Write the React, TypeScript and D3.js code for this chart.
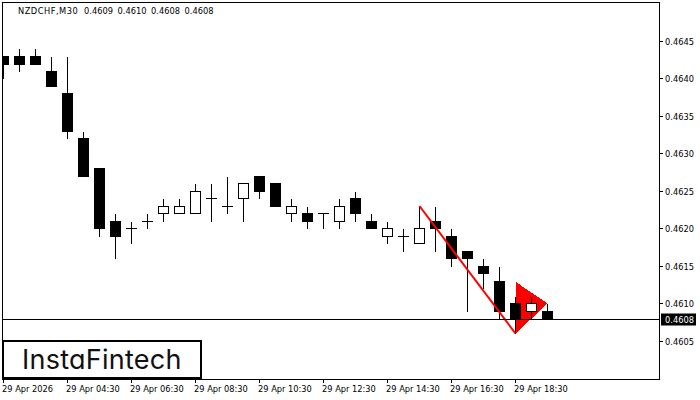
import React, { useEffect, useRef } from "react";
import * as d3 from "d3";

const opens = [0.4643, 0.4643, 0.4643, 0.4641, 0.4638, 0.4632, 0.4628, 0.4621, 0.462, 0.4621, 0.4622, 0.4622, 0.4622, 0.4624, 0.4623, 0.4624, 0.4627, 0.4626, 0.4622, 0.4622, 0.4622, 0.4621, 0.4624, 0.4621, 0.4619, 0.4619, 0.4618, 0.4621, 0.4619, 0.4617, 0.4615, 0.4613, 0.461, 0.4609, 0.4609];
const highs = [0.4643, 0.4644, 0.4644, 0.4643, 0.4643, 0.4633, 0.4628, 0.4622, 0.4621, 0.4622, 0.4624, 0.4624, 0.4626, 0.4626, 0.4627, 0.4626, 0.4627, 0.4626, 0.4624, 0.4623, 0.4622, 0.4624, 0.4625, 0.4622, 0.4621, 0.462, 0.4623, 0.4623, 0.462, 0.4617, 0.4616, 0.4615, 0.4611, 0.4611, 0.461];
const lows = [0.464, 0.4641, 0.46419, 0.4639, 0.4632, 0.4627, 0.4619, 0.4616, 0.4618, 0.462, 0.4621, 0.4622, 0.4622, 0.4621, 0.4622, 0.4621, 0.4624, 0.4623, 0.4621, 0.462, 0.462, 0.462, 0.4621, 0.462, 0.4618, 0.4617, 0.4618, 0.4617, 0.4615, 0.4609, 0.4612, 0.46079, 0.4606, 0.46079, 0.46079];
const closes = [0.46419, 0.46419, 0.46419, 0.4639, 0.4633, 0.4627, 0.462, 0.4619, 0.462, 0.4621, 0.4623, 0.4623, 0.4625, 0.4624, 0.4623, 0.4626, 0.4625, 0.4623, 0.4623, 0.4621, 0.4622, 0.4623, 0.4622, 0.462, 0.462, 0.4619, 0.462, 0.462, 0.4616, 0.4616, 0.4614, 0.4609, 0.46079, 0.461, 0.46079];

const priceTicks = [0.4645, 0.464, 0.4635, 0.463, 0.4625, 0.462, 0.4615, 0.461, 0.4605];
const timeTickIndex = [0, 4, 8, 12, 16, 20, 24, 28, 32];
const timeLabels = ["29 Apr 2026", "29 Apr 04:30", "29 Apr 06:30", "29 Apr 08:30", "29 Apr 10:30", "29 Apr 12:30", "29 Apr 14:30", "29 Apr 16:30", "29 Apr 18:30"];

const lastPrice = 0.46079;
const flagPole: [number, number][] = [[26, 0.4623], [32, 0.4606]];
const pennant: [number, number][] = [[32, 0.46129], [32, 0.4606], [34, 0.461]];

const FONT = "'DejaVu Sans', sans-serif";

export default function App() {
    const svgRef = useRef<SVGSVGElement>(null);

    useEffect(() => {
        if (!svgRef.current) return;
        const svg = d3.select(svgRef.current);
        svg.selectAll("*").remove();

        const left = 2, right = 660, top = 2, bottom = 379;

        const x = d3.scaleLinear().domain([0, 34]).range([3.5, 547.5]);
        const y = d3.scaleLinear().domain([0.4645, 0.4605]).range([41, 341]);
        const py = (p: number) => Math.floor(y(p)) + 0.5;

        const label = (tx: number, ty: number, s: string, fill = "#000") =>
            svg.append("text")
                .attr("x", tx).attr("y", ty)
                .attr("font-family", FONT).attr("font-size", 9.2)
                .attr("font-stretch", "condensed")
                .attr("fill", fill)
                .text(s);

        svg.append("defs").append("clipPath").attr("id", "plot")
            .append("rect")
            .attr("x", left + 1).attr("y", top)
            .attr("width", right - left - 1).attr("height", bottom - top);

        // pennant sits behind the candles
        const plot = svg.append("g").attr("clip-path", "url(#plot)");
        const lineGen = d3.line<[number, number]>().x((d) => x(d[0])).y((d) => y(d[1]));
        plot.append("path")
            .attr("d", lineGen(pennant) + "Z")
            .attr("fill", "#ff0000")
            .attr("shape-rendering", "crispEdges");

        opens.forEach((o, i) => {
            const cx = x(i);
            const c = closes[i];
            const g = plot.append("g").attr("shape-rendering", "crispEdges");
            g.append("line")
                .attr("x1", cx).attr("x2", cx)
                .attr("y1", py(highs[i])).attr("y2", py(lows[i]) + 0.5)
                .attr("stroke", "#000");
            if (o === c) {
                g.append("line")
                    .attr("x1", cx - 5.5).attr("x2", cx + 5.5)
                    .attr("y1", py(o)).attr("y2", py(o))
                    .attr("stroke", "#000");
            } else if (c > o) {
                g.append("rect")
                    .attr("x", cx - 5).attr("width", 10)
                    .attr("y", py(c)).attr("height", py(o) - py(c))
                    .attr("fill", "#fff").attr("stroke", "#000");
            } else {
                g.append("rect")
                    .attr("x", cx - 5.5).attr("width", 11)
                    .attr("y", py(o) - 0.5).attr("height", py(c) - py(o) + 1)
                    .attr("fill", "#000");
            }
        });

        plot.append("path")
            .attr("d", lineGen(flagPole))
            .attr("fill", "none")
            .attr("stroke", "#ff0000")
            .attr("stroke-width", 2);

        // last price line
        svg.append("line")
            .attr("x1", left).attr("x2", right)
            .attr("y1", py(lastPrice)).attr("y2", py(lastPrice))
            .attr("stroke", "#000")
            .attr("shape-rendering", "crispEdges");

        // frame
        svg.append("rect")
            .attr("x", left + 0.5).attr("y", top + 0.5)
            .attr("width", right - left - 1).attr("height", bottom - top)
            .attr("fill", "none").attr("stroke", "#000")
            .attr("shape-rendering", "crispEdges");

        // price axis
        priceTicks.forEach((p) => {
            svg.append("line")
                .attr("x1", right).attr("x2", right + 3)
                .attr("y1", py(p)).attr("y2", py(p))
                .attr("stroke", "#000")
                .attr("shape-rendering", "crispEdges");
            label(665, py(p) + 3.5, d3.format(".4f")(p));
        });

        svg.append("rect")
            .attr("x", 661).attr("y", py(lastPrice) - 6)
            .attr("width", 35).attr("height", 12)
            .attr("fill", "#000");
        label(665, py(lastPrice) + 3.5, d3.format(".4f")(lastPrice), "#fff");

        // time axis
        timeTickIndex.forEach((idx, i) => {
            svg.append("line")
                .attr("x1", x(idx)).attr("x2", x(idx))
                .attr("y1", bottom).attr("y2", bottom + 4)
                .attr("stroke", "#000")
                .attr("shape-rendering", "crispEdges");
            label(x(idx) - 1.5, 392, timeLabels[i]);
        });

        label(18, 14, "NZDCHF,M30").attr("letter-spacing", 0.5);
        label(84, 14, "0.4609 0.4610 0.4608 0.4608").attr("word-spacing", 2);

        // logo
        svg.append("rect")
            .attr("x", 3).attr("y", 341)
            .attr("width", 198).attr("height", 37)
            .attr("fill", "#fff").attr("stroke", "#000").attr("stroke-width", 2)
            .attr("shape-rendering", "crispEdges");
        svg.append("text")
            .attr("x", 22).attr("y", 369)
            .attr("font-family", "Inter, sans-serif").attr("font-size", 27)
            .attr("letter-spacing", 0.25)
            .attr("fill", "#111")
            .style("font-feature-settings", "'cv11'")
            .text("InstaFintech");
    }, []);

    return (
        <svg
            ref={svgRef}
            width={700}
            height={400}
            style={{ position: "absolute", left: 0, top: 0, background: "#fff" }}
        />
    );
}
